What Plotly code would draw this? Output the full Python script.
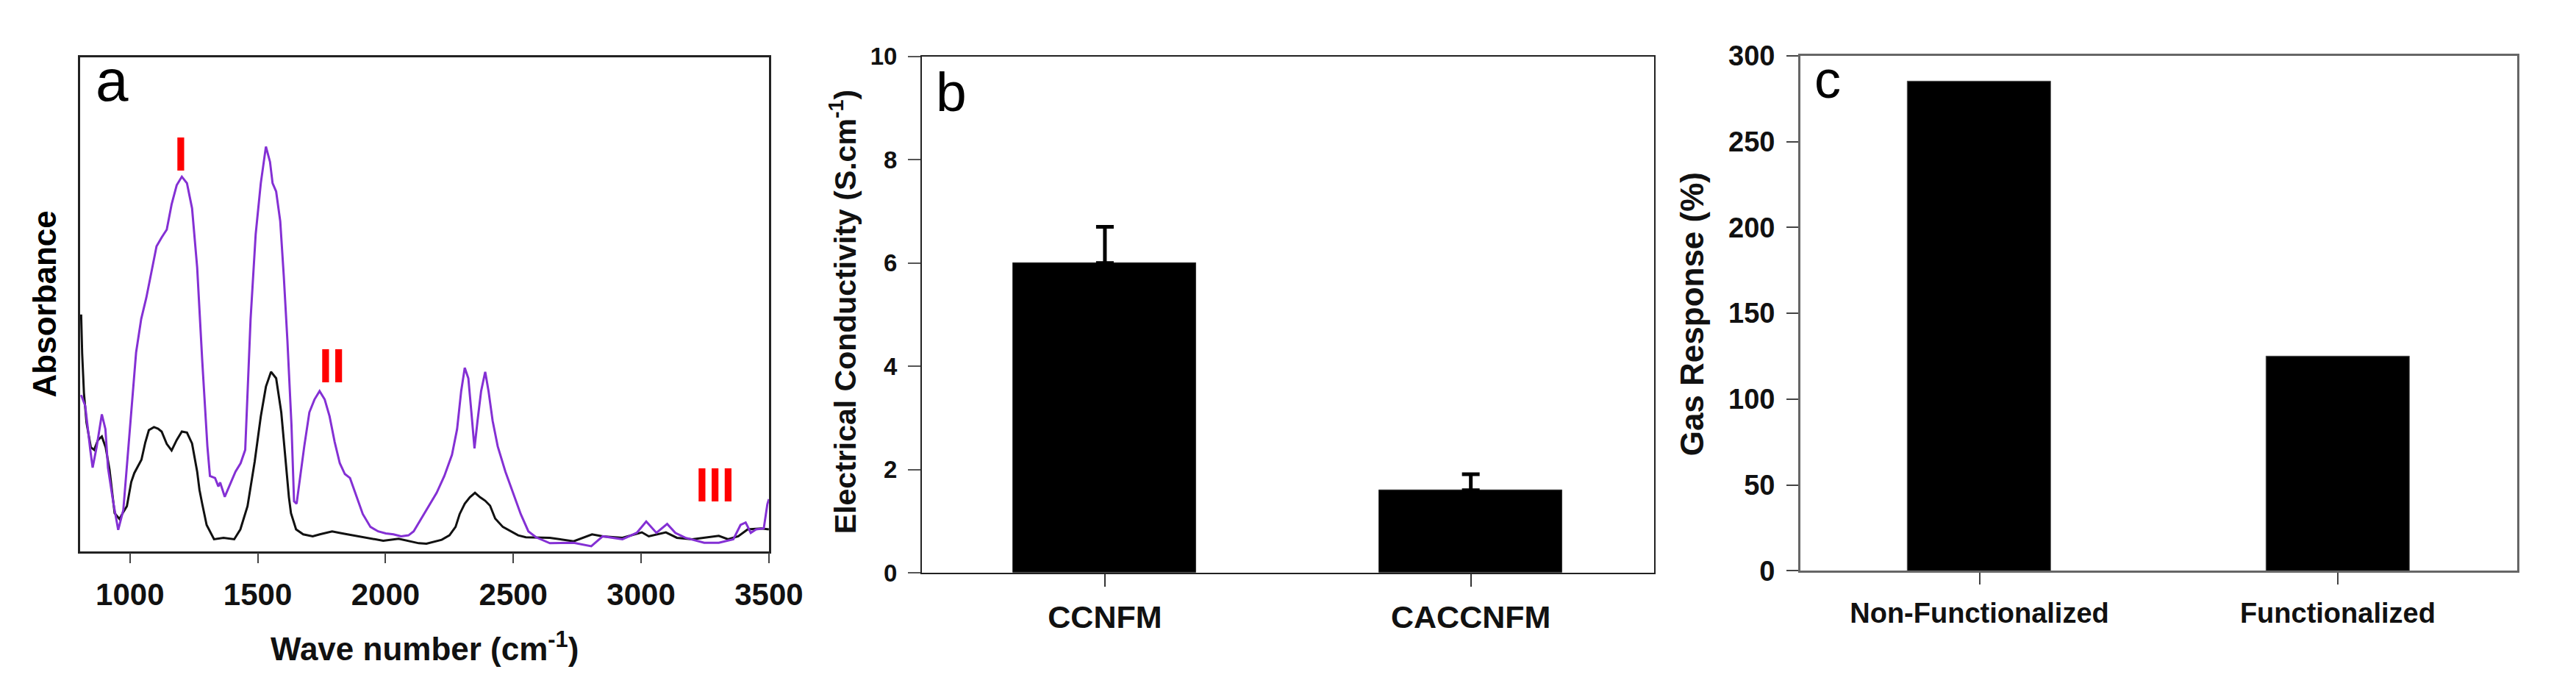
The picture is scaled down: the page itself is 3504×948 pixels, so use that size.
import plotly.graph_objects as go

# ---------------- data ----------------
# Panel a: FTIR spectra (absorbance, arbitrary units)
wave_purple = [809, 825, 845, 854, 870, 890, 904, 914, 934, 954, 974, 994, 1010, 1024, 1044, 1064, 1084, 1104,
               1124, 1144, 1163, 1183, 1203, 1223, 1243, 1263, 1283, 1303, 1313, 1333, 1346, 1353, 1371, 1394,
               1413, 1433, 1451, 1472, 1492, 1512, 1532, 1548, 1558, 1572, 1588, 1602, 1616, 1632, 1642, 1652,
               1666, 1682, 1702, 1722, 1742, 1762, 1781, 1801, 1821, 1841, 1861, 1881, 1911, 1941, 1971, 2001,
               2031, 2061, 2090, 2110, 2140, 2170, 2200, 2230, 2260, 2280, 2296, 2310, 2324, 2336, 2348, 2360,
               2374, 2390, 2403, 2419, 2439, 2469, 2499, 2529, 2559, 2589, 2643, 2736, 2805, 2850, 2927, 2983,
               3020, 3040, 3060, 3102, 3134, 3173, 3247, 3304, 3361, 3389, 3409, 3429, 3450, 3480, 3494, 3500]
abs_purple = [0.316, 0.294, 0.204, 0.169, 0.212, 0.277, 0.247, 0.169, 0.101, 0.043, 0.083, 0.212, 0.324, 0.402,
              0.470, 0.513, 0.565, 0.617, 0.635, 0.651, 0.702, 0.741, 0.758, 0.745, 0.694, 0.574, 0.384, 0.212,
              0.152, 0.148, 0.131, 0.139, 0.110, 0.138, 0.161, 0.178, 0.205, 0.470, 0.642, 0.745, 0.819, 0.788,
              0.745, 0.728, 0.668, 0.556, 0.427, 0.255, 0.101, 0.096, 0.152, 0.212, 0.281, 0.307, 0.324, 0.307,
              0.273, 0.221, 0.178, 0.156, 0.148, 0.118, 0.075, 0.049, 0.040, 0.036, 0.034, 0.030, 0.032, 0.040,
              0.066, 0.092, 0.118, 0.152, 0.195, 0.247, 0.324, 0.371, 0.350, 0.281, 0.208, 0.264, 0.324, 0.363,
              0.324, 0.264, 0.212, 0.161, 0.118, 0.075, 0.040, 0.028, 0.016, 0.017, 0.010, 0.030, 0.024, 0.037,
              0.060, 0.048, 0.037, 0.055, 0.037, 0.027, 0.017, 0.017, 0.024, 0.053, 0.058, 0.037, 0.044, 0.046,
              0.095, 0.105]

wave_black = [809, 813, 820, 830, 847, 860, 875, 890, 905, 920, 940, 959, 975, 988, 1005, 1017, 1045, 1060, 1074,
              1094, 1110, 1124, 1144, 1163, 1183, 1203, 1223, 1243, 1263, 1272, 1283, 1300, 1329, 1366, 1408,
              1432, 1460, 1488, 1512, 1532, 1552, 1572, 1592, 1608, 1622, 1630, 1650, 1678, 1715, 1743, 1791,
              1831, 1871, 1911, 1951, 1991, 2051, 2090, 2130, 2160, 2190, 2220, 2250, 2274, 2290, 2310, 2330,
              2350, 2370, 2390, 2409, 2429, 2459, 2489, 2519, 2549, 2589, 2643, 2736, 2808, 2850, 2927, 3003,
              3030, 3097, 3140, 3200, 3304, 3340, 3380, 3417, 3470, 3500]
abs_black = [0.479, 0.40, 0.32, 0.26, 0.21, 0.205, 0.225, 0.232, 0.21, 0.165, 0.077, 0.065, 0.08, 0.091, 0.14,
             0.158, 0.185, 0.22, 0.245, 0.251, 0.248, 0.242, 0.217, 0.204, 0.225, 0.242, 0.240, 0.218, 0.161,
             0.124, 0.095, 0.053, 0.024, 0.027, 0.024, 0.044, 0.091, 0.181, 0.273, 0.333, 0.363, 0.350, 0.281,
             0.187, 0.109, 0.077, 0.044, 0.034, 0.030, 0.034, 0.040, 0.036, 0.032, 0.028, 0.025, 0.021, 0.025,
             0.021, 0.016, 0.015, 0.019, 0.023, 0.032, 0.049, 0.075, 0.096, 0.109, 0.118, 0.109, 0.102, 0.092,
             0.066, 0.049, 0.040, 0.032, 0.028, 0.028, 0.027, 0.020, 0.034, 0.030, 0.027, 0.038, 0.030, 0.038,
             0.027, 0.024, 0.031, 0.024, 0.030, 0.044, 0.046, 0.044]

peak_labels = ["I", "II", "III"]
peak_label_x = [1200, 1791, 3290]
peak_label_y = [0.803, 0.374, 0.134]

wave_ticks = [1000, 1500, 2000, 2500, 3000, 3500]

# Panel b: electrical conductivity
cond_categories = ["CCNFM", "CACCNFM"]
cond_values = [6.0, 1.6]
cond_errors = [0.7, 0.31]

# Panel c: gas response
gas_categories = ["Non-Functionalized", "Functionalized"]
gas_values = [285, 125]

# ---------------- figure ----------------
W, H = 3504, 948
FONT = "Liberation Sans, Arial, Helvetica, sans-serif"


def px_x(p):
    return p / W


def px_y(p):
    return 1 - p / H


fig = go.Figure()

fig.add_trace(go.Scatter(x=wave_black, y=abs_black, mode="lines",
                         line=dict(color="#111111", width=3), xaxis="x", yaxis="y", showlegend=False))
fig.add_trace(go.Scatter(x=wave_purple, y=abs_purple, mode="lines",
                         line=dict(color="#8430d4", width=3), xaxis="x", yaxis="y", showlegend=False))

fig.add_trace(go.Bar(x=cond_categories, y=cond_values, width=0.5,
                     marker=dict(color="black", line=dict(color="#333", width=1)),
                     error_y=dict(type="data", symmetric=False, array=cond_errors, arrayminus=[0, 0],
                                  color="black", thickness=5, width=12),
                     xaxis="x2", yaxis="y2", showlegend=False))

fig.add_trace(go.Bar(x=gas_categories, y=gas_values, width=0.4,
                     marker=dict(color="black", line=dict(color="#555", width=1)),
                     xaxis="x3", yaxis="y3", showlegend=False))

fig.update_layout(
    width=W, height=H,
    margin=dict(l=0, r=0, t=0, b=0),
    paper_bgcolor="white", plot_bgcolor="white",
    font=dict(family=FONT, color="black"),
    bargap=0,
    xaxis=dict(domain=[px_x(102), px_x(1052)], range=[804, 3500], tickvals=wave_ticks,
               showline=True, mirror=True, linecolor="#222", linewidth=2.5,
               ticks="outside", ticklen=14, tickwidth=2, tickcolor="#444",
               tickfont=dict(family=FONT, size=42, color="#111", weight="bold"),
               ticklabelstandoff=6, showgrid=False, zeroline=False),
    yaxis=dict(domain=[px_y(754), px_y(51)], range=[0, 1], showline=True, mirror=True,
               linecolor="#222", linewidth=2.5, showticklabels=False, ticks="",
               showgrid=False, zeroline=False),
    xaxis2=dict(domain=[px_x(1263), px_x(2272)], range=[-0.5, 1.5], anchor="y2",
                showline=True, mirror=True, linecolor="#222", linewidth=2,
                ticks="outside", ticklen=17, tickwidth=2, tickcolor="#333",
                tickfont=dict(family=FONT, size=43, color="#111", weight="bold"),
                ticklabelstandoff=4, showgrid=False, zeroline=False),
    yaxis2=dict(domain=[px_y(785), px_y(50)], range=[0, 10], dtick=2, anchor="x2",
                showline=True, mirror=True, linecolor="#222", linewidth=2,
                ticks="outside", ticklen=17, tickwidth=2, tickcolor="#555",
                tickfont=dict(family=FONT, size=33, color="#111", weight="bold"),
                ticklabelstandoff=8, showgrid=False, zeroline=False),
    xaxis3=dict(domain=[px_x(2474), px_x(3462)], range=[-0.5, 1.5], anchor="y3",
                showline=True, mirror=True, linecolor="#666", linewidth=2.5,
                ticks="outside", ticklen=16, tickwidth=2, tickcolor="#444",
                tickfont=dict(family=FONT, size=38, color="#111", weight="bold"),
                ticklabelstandoff=6, showgrid=False, zeroline=False),
    yaxis3=dict(domain=[px_y(782), px_y(49)], range=[0, 300], dtick=50, anchor="x3",
                showline=True, mirror=True, linecolor="#666", linewidth=2.5,
                ticks="outside", ticklen=16, tickwidth=2, tickcolor="#444",
                tickfont=dict(family=FONT, size=38, color="#111", weight="bold"),
                ticklabelstandoff=8, showgrid=False, zeroline=False),
)

annotations = []
# Peak labels in panel a
for lab, xv, yv in zip(peak_labels, peak_label_x, peak_label_y):
    annotations.append(dict(x=xv, y=yv, xref="x", yref="y", text=lab, showarrow=False,
                            font=dict(family=FONT, size=64, color="#ff0000", weight="bold"),
                            xanchor="center", yanchor="middle"))

# panel letters
annotations.append(dict(x=px_x(122), y=px_y(84), xref="paper", yref="paper", text="a", showarrow=False,
                        font=dict(family=FONT, size=80, color="black"), xanchor="left", yanchor="middle"))
annotations.append(dict(x=px_x(1280), y=px_y(100), xref="paper", yref="paper", text="b", showarrow=False,
                        font=dict(family=FONT, size=75, color="black"), xanchor="left", yanchor="middle"))
annotations.append(dict(x=px_x(2491), y=px_y(83), xref="paper", yref="paper", text="c", showarrow=False,
                        font=dict(family=FONT, size=72, color="black"), xanchor="left", yanchor="middle"))

# axis titles
annotations.append(dict(x=px_x(53), y=px_y(402), xref="paper", yref="paper", text="Absorbance",
                        showarrow=False, textangle=-90, font=dict(family=FONT, size=44, color="black", weight="bold"),
                        xanchor="center", yanchor="middle"))
annotations.append(dict(x=px_x(577), y=px_y(890), xref="paper", yref="paper",
                        text="Wave number (cm<sup>-1</sup>)", showarrow=False,
                        font=dict(family=FONT, size=44, color="#111", weight="bold"),
                        xanchor="center", yanchor="middle"))
annotations.append(dict(x=px_x(1154), y=px_y(414), xref="paper", yref="paper",
                        text="Electrical Conductivity (S.cm<sup>-1</sup>)", showarrow=False, textangle=-90,
                        font=dict(family=FONT, size=41, color="#111", weight="bold"),
                        xanchor="center", yanchor="middle"))
annotations.append(dict(x=px_x(2325), y=px_y(417), xref="paper", yref="paper",
                        text="Gas Response (%)", showarrow=False, textangle=-90,
                        font=dict(family=FONT, size=44, color="#111", weight="bold"),
                        xanchor="center", yanchor="middle"))

fig.update_layout(annotations=annotations)

fig.write_html("out.html")
